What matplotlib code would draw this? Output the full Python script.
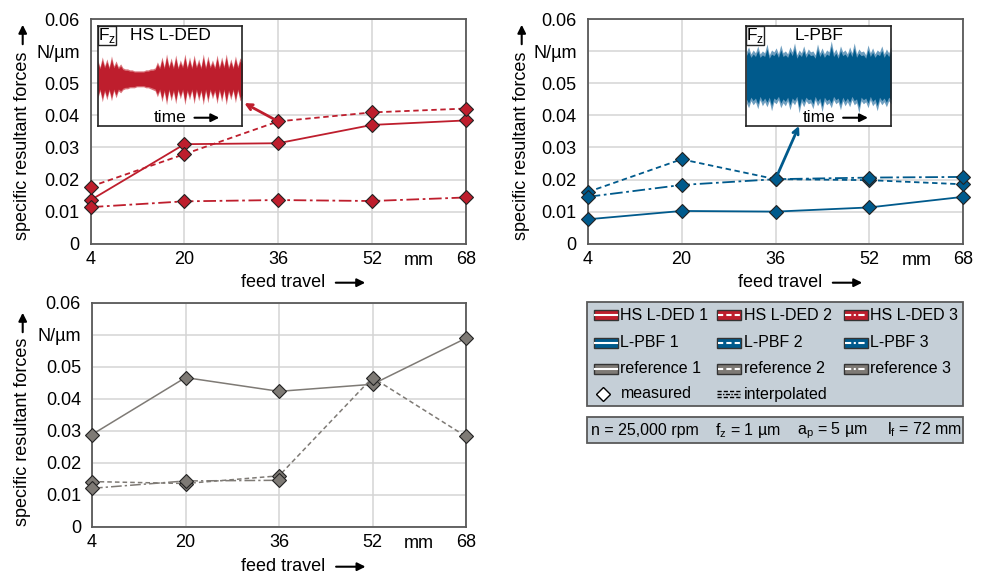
import numpy as np
import matplotlib
matplotlib.use('Agg')
from matplotlib import pyplot as plt
from matplotlib.patches import Rectangle

plt.rcParams['font.family'] = ['Liberation Sans', 'DejaVu Sans']

# DADOS

x_feed = [4, 20, 36, 52, 68]
x_labels = ['4', '20', '36', '52', '68']
y_ticks = [0, 0.01, 0.02, 0.03, 0.04, 0.05, 0.06, 0.07]
y_labels = ['0', '0.01', '0.02', '0.03', '0.04', '0.05', 'N/µm', '0.06']

ded_1 = [0.0136, 0.0310, 0.0313, 0.0370, 0.0384]
ded_2 = [0.0178, 0.0279, 0.0381, 0.0409, 0.0421]
ded_3 = [0.0114, 0.0132, 0.0136, 0.0133, 0.0144]

pbf_1 = [0.0076, 0.0102, 0.0100, 0.0113, 0.0146]
pbf_2 = [0.0161, 0.0263, 0.0201, 0.0198, 0.0185]
pbf_3 = [0.0146, 0.0183, 0.0201, 0.0206, 0.0208]

ref_1 = [0.0288, 0.0466, 0.0423, 0.0445, 0.0589]
ref_2 = [0.0141, 0.0135, 0.0159, 0.0466, 0.0282]
ref_3 = [0.0120, 0.0143, 0.0145, np.nan, np.nan]

# envelope of the force signal in the insets (fraction of inset height)
red_top = [0.19, 0.12, 0.22, 0.13, 0.20, 0.12, 0.23, 0.13, 0.18, 0.12, 0.15, 0.11,
           0.10, 0.10, 0.09, 0.09, 0.08, 0.08, 0.08, 0.08, 0.08, 0.09, 0.09, 0.10,
           0.10, 0.11, 0.17, 0.12, 0.22, 0.12, 0.25, 0.13, 0.21, 0.12, 0.24, 0.12,
           0.19, 0.13, 0.25, 0.12, 0.22, 0.12, 0.24, 0.13, 0.20, 0.12, 0.25, 0.12,
           0.23, 0.13, 0.19, 0.12, 0.24, 0.12, 0.22, 0.13, 0.25, 0.12, 0.20, 0.12,
           0.23, 0.13, 0.21, 0.18]
red_bot = [0.20, 0.12, 0.23, 0.13, 0.21, 0.12, 0.22, 0.12, 0.19, 0.12, 0.14, 0.11,
           0.10, 0.10, 0.09, 0.09, 0.09, 0.08, 0.08, 0.08, 0.08, 0.09, 0.09, 0.10,
           0.11, 0.12, 0.18, 0.12, 0.23, 0.13, 0.26, 0.12, 0.22, 0.13, 0.25, 0.12,
           0.20, 0.12, 0.26, 0.13, 0.21, 0.12, 0.25, 0.12, 0.22, 0.13, 0.26, 0.12,
           0.24, 0.12, 0.20, 0.13, 0.25, 0.12, 0.23, 0.12, 0.26, 0.13, 0.21, 0.12,
           0.24, 0.12, 0.22, 0.19]
blue_top = [0.25, 0.30, 0.23, 0.27, 0.24, 0.31, 0.23, 0.26, 0.24, 0.33, 0.22, 0.27,
            0.25, 0.29, 0.23, 0.32, 0.24, 0.26, 0.23, 0.30, 0.25, 0.34, 0.22, 0.27,
            0.24, 0.31, 0.23, 0.28, 0.25, 0.26, 0.22, 0.33, 0.24, 0.29, 0.23, 0.27,
            0.25, 0.36, 0.24, 0.28, 0.22, 0.31, 0.25, 0.27, 0.23, 0.30, 0.24, 0.34,
            0.23, 0.28, 0.25, 0.26, 0.22, 0.32, 0.24, 0.29, 0.23, 0.27, 0.25, 0.31,
            0.23, 0.28, 0.24, 0.30]
blue_bot = [0.26, 0.31, 0.24, 0.28, 0.25, 0.32, 0.23, 0.29, 0.25, 0.30, 0.24, 0.34,
            0.25, 0.27, 0.23, 0.31, 0.26, 0.29, 0.24, 0.33, 0.25, 0.28, 0.23, 0.36,
            0.25, 0.30, 0.24, 0.27, 0.26, 0.32, 0.23, 0.29, 0.25, 0.35, 0.24, 0.28,
            0.26, 0.31, 0.23, 0.27, 0.25, 0.33, 0.24, 0.29, 0.25, 0.30, 0.23, 0.28,
            0.26, 0.36, 0.24, 0.27, 0.25, 0.31, 0.23, 0.29, 0.26, 0.34, 0.24, 0.28,
            0.25, 0.30, 0.24, 0.27]

# ESTILO

vermelho = '#be1e2d'
azul = '#005a8c'
cinza = '#7e7a75'
moldura = '#595959'
fundo_leg = '#c5cfd7'
estilos = ['-', (0, (3, 2)), (0, (7, 2, 1.5, 2))]
fs = 13

W, H = 983, 575
fig = plt.figure(figsize=(W / 100, H / 100), dpi=100)


def px_axes(x0, y0, x1, y1):
    # caixa em pixels (origem em cima a esquerda)
    return fig.add_axes([x0 / W, 1 - y1 / H, (x1 - x0) / W, (y1 - y0) / H])


def plotar(ax, series, cor, lw=1.3):
    for y, ls in zip(series, estilos):
        ax.plot(x_feed, y, color=cor, linestyle=ls, linewidth=lw, marker='D',
                markersize=7.5, markerfacecolor=cor, markeredgecolor='#222222',
                markeredgewidth=0.8, clip_on=False, zorder=3)
    ax.set_xlim(4, 68)
    ax.set_ylim(0, 0.07)
    ax.set_xticks(x_feed, x_labels, fontsize=fs)
    ax.set_yticks(y_ticks, y_labels, fontsize=fs)
    ax.tick_params(length=0)
    ax.tick_params(axis='x', pad=5)
    ax.tick_params(axis='y', pad=8)
    ax.grid(color='#d4d4d4', linewidth=1.1, zorder=0)
    ax.set_axisbelow(True)
    for s in ax.spines.values():
        s.set_color(moldura)
        s.set_linewidth(1.3)
    ax.text(60, -0.075, 'mm', transform=ax.get_xaxis_transform(),
            ha='center', va='center', fontsize=fs)


def inset(x0, y0, x1, y1, titulo, top, bot, meio, cor, cor_clara):
    ai = px_axes(x0, y0, x1, y1)
    ai.set_xlim(0, 1)
    ai.set_ylim(0, 1)
    ai.set_xticks([])
    ai.set_yticks([])
    for s in ai.spines.values():
        s.set_color('#222222')
        s.set_linewidth(1.2)
    t = np.linspace(0, 1, len(top))
    top = np.array(top)
    bot = np.array(bot)
    ai.fill_between(t, meio + top, meio - bot, color=cor_clara, linewidth=0)
    ai.fill_between(t, meio + 0.85 * top, meio - 0.85 * bot, color=cor, linewidth=0)
    ai.add_patch(Rectangle((0, 0.81), 0.125, 0.19, transform=ai.transAxes,
                           facecolor='white', edgecolor='#222222', linewidth=1))
    ai.text(0.062, 0.905, r'F$_\mathregular{z}$', ha='center', va='center', fontsize=12.5)
    ai.text(0.5, 0.9, titulo, ha='center', va='center', fontsize=12.5)
    ai.text(0.5, 0.08, 'time', ha='center', va='center', fontsize=12.5)
    ai.annotate('', xy=(0.86, 0.08), xytext=(0.65, 0.08), xycoords='axes fraction',
                arrowprops=dict(arrowstyle='-|>', color='black', lw=1.5, mutation_scale=12))
    return ai


# PLOTS

ax1 = px_axes(90.7, 19, 465.7, 243.7)
plotar(ax1, [ded_1, ded_2, ded_3], vermelho)
ax2 = px_axes(587.7, 19, 963.3, 243.7)
plotar(ax2, [pbf_1, pbf_2, pbf_3], azul)
ax3 = px_axes(92, 302.7, 466, 526.7)
plotar(ax3, [ref_1, ref_2, ref_3], cinza, lw=1.1)

inset(97.7, 26, 242.3, 125.7, 'HS L-DED', red_top, red_bot, 0.47, vermelho, '#d9737a')
inset(746.3, 26, 891, 125.7, 'L-PBF', blue_top, blue_bot, 0.49, azul, '#6f9fc0')

ax1.annotate('', xy=(29.8, 0.0442), xytext=(x_feed[2], ded_2[2]),
             arrowprops=dict(arrowstyle='->', color=vermelho, lw=2, mutation_scale=10),
             zorder=4)
ax2.annotate('', xy=(40.2, 0.0375), xytext=(x_feed[2], pbf_2[2]),
             arrowprops=dict(arrowstyle='->', color=azul, lw=2, mutation_scale=10),
             zorder=4)

# camada em pixels para rotulos e legenda
ov = fig.add_axes([0, 0, 1, 1])
ov.set_xlim(0, W)
ov.set_ylim(H, 0)
ov.axis('off')

seta = dict(arrowstyle='-|>', color='black', lw=1.5, mutation_scale=12)
for xl, yc, ya in [(22.7, 145.5, 47), (521.7, 145.5, 47), (22.7, 431.7, 335)]:
    ov.text(xl, yc, 'specific resultant forces', rotation=90, ha='center', va='center',
            fontsize=fs)
    ov.annotate('', xy=(xl, ya - 25), xytext=(xl, ya), arrowprops=seta)
for xc, yc, xa in [(283, 282.7, 333), (780, 282.7, 830), (283, 566.7, 333.3)]:
    ov.text(xc, yc, 'feed travel', ha='center', va='center', fontsize=fs)
    ov.annotate('', xy=(xa + 35, yc), xytext=(xa, yc), arrowprops=seta)

# legenda
ov.add_patch(Rectangle((587.3, 301.7), 376, 104, facecolor=fundo_leg, edgecolor=moldura,
                       linewidth=1.3))
ov.add_patch(Rectangle((587.3, 416.7), 376, 26.6, facecolor=fundo_leg, edgecolor=moldura,
                       linewidth=1.3))
linhas_y = [315, 342.5, 368.5, 394]
colunas_x = [593.5, 716.5, 843.5]
grupos = [('HS L-DED', vermelho), ('L-PBF', azul), ('reference', cinza)]
estilos_leg = ['-', (0, (2.5, 1.5)), (0, (3, 1.2, 1, 1.2))]
for (nome, cor), yl in zip(grupos, linhas_y):
    for i, (xc, ls) in enumerate(zip(colunas_x, estilos_leg)):
        ov.add_patch(Rectangle((xc, yl - 5), 24, 10, facecolor=cor, edgecolor='#333333',
                               linewidth=1))
        ov.plot([xc + 1, xc + 23], [yl, yl], color='white', linewidth=1.5, linestyle=ls)
        ov.text(xc + 27, yl, f'{nome} {i + 1}', ha='left', va='center', fontsize=11.5)
ov.plot([603], [linhas_y[3]], marker='D', markersize=7, markerfacecolor='white',
        markeredgecolor='black', markeredgewidth=1)
ov.text(620.5, linhas_y[3], 'measured', ha='left', va='center', fontsize=11.5)
for dy, ls in zip([-3, 0, 3], [(0, (3, 1.5)), (0, (3, 1, 1, 1)), (0, (3, 1.5))]):
    ov.plot([717, 740], [linhas_y[3] + dy, linhas_y[3] + dy], color='black',
            linewidth=1, linestyle=ls)
ov.text(743.5, linhas_y[3], 'interpolated', ha='left', va='center', fontsize=11.5)

params = [(591, 'n = 25,000 rpm'), (715, r'f$_\mathregular{z}$ = 1 µm'),
          (796.7, r'a$_\mathregular{p}$ = 5 µm'), (886.7, r'l$_\mathregular{f}$ = 72 mm')]
for xp, txt in params:
    ov.text(xp, 434.5, txt, ha='left', va='baseline', fontsize=11.5)

fig.savefig('out.png', dpi=100)
